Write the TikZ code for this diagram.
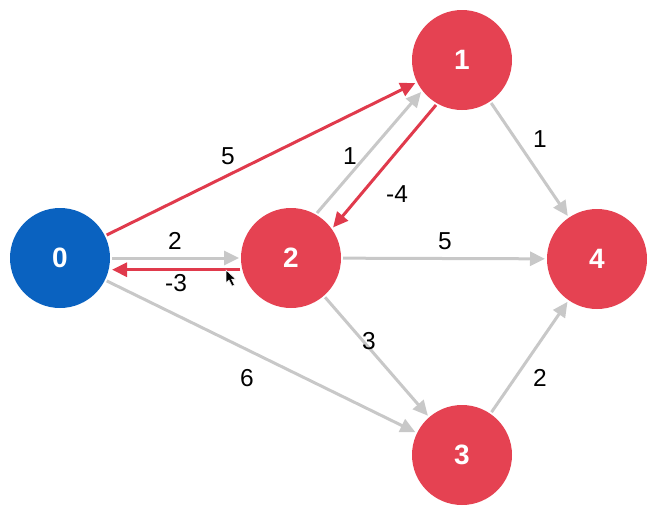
\documentclass[tikz,border=0pt]{standalone}
\usepackage{graphicx}
\usepackage{fontspec}
\setmainfont{Liberation Sans}
\usetikzlibrary{arrows.meta}
\definecolor{nodered}{RGB}{229,66,82}
\definecolor{nodeblue}{RGB}{10,98,192}
\definecolor{edgegray}{RGB}{200,200,200}
\definecolor{edgered}{RGB}{224,58,76}
\newcommand{\vnum}[1]{\scalebox{2.8}{\bfseries #1}}
\newcommand{\wnum}[1]{\scalebox{2.45}{#1}}
\begin{document}
\begin{tikzpicture}[x=1pt,y=-1pt,
  vert/.style={circle,minimum size=100pt,inner sep=0pt,outer sep=2pt,
    text=white,font=\normalsize},
  redv/.style={vert,fill=nodered},
  bluev/.style={vert,fill=nodeblue},
  garrow/.style={draw=edgegray,line width=3pt,-{Triangle[length=15pt,width=14pt]}},
  rarrow/.style={draw=edgered,line width=3pt,-{Triangle[length=15pt,width=14pt]}},
  wlabel/.style={font=\normalsize,text=black,inner sep=0pt}
]
\useasboundingbox (0,0) rectangle (656,512);
\node[bluev] (n0) at (60,258) {\vnum{0}};
\node[redv] (n1) at (462,60) {\vnum{1}};
\node[redv] (n2) at (291,258) {\vnum{2}};
\node[redv] (n3) at (462,455) {\vnum{3}};
\node[redv] (n4) at (597,259) {\vnum{4}};

\draw[rarrow] (n0) -- (n1);
\draw[garrow] (n0.east) -- (n0.east -| n2.west);
\draw[rarrow] (n2.193) -- (n2.193 -| n0.east);
\draw[garrow] (n2.60) -- (n1.218);
\draw[rarrow] (n1.240) -- (n2.36);
\draw[garrow] (n2) -- (n4);
\draw[garrow] (n1) -- (n4);
\draw[garrow] (n2) -- (n3);
\draw[garrow] (n0) -- (n3);
\draw[garrow] (n3) -- (n4);

\node[wlabel] (l01) at (228,156) {\wnum{5}};
\node[wlabel] (l02) at (175,241) {\wnum{2}};
\node[wlabel] (l20) at (176,283) {\wnum{-3}};
\node[wlabel] (l21) at (350,156) {\wnum{1}};
\node[wlabel] (l12) at (397,194) {\wnum{-4}};
\node[wlabel] (l24) at (445,241) {\wnum{5}};
\node[wlabel] (l14) at (540,139) {\wnum{1}};
\node[wlabel] (l23) at (369,341) {\wnum{3}};
\node[wlabel] (l03) at (247,378) {\wnum{6}};
\node[wlabel] (l34) at (540,378) {\wnum{2}};

% mouse pointer
\fill[black,draw=white,line width=0.5pt] (226,270) -- (226,283) -- (229,280) -- (232,286) -- (234.5,285) -- (231.5,279) -- (235.5,279) -- cycle;
\end{tikzpicture}
\end{document}
